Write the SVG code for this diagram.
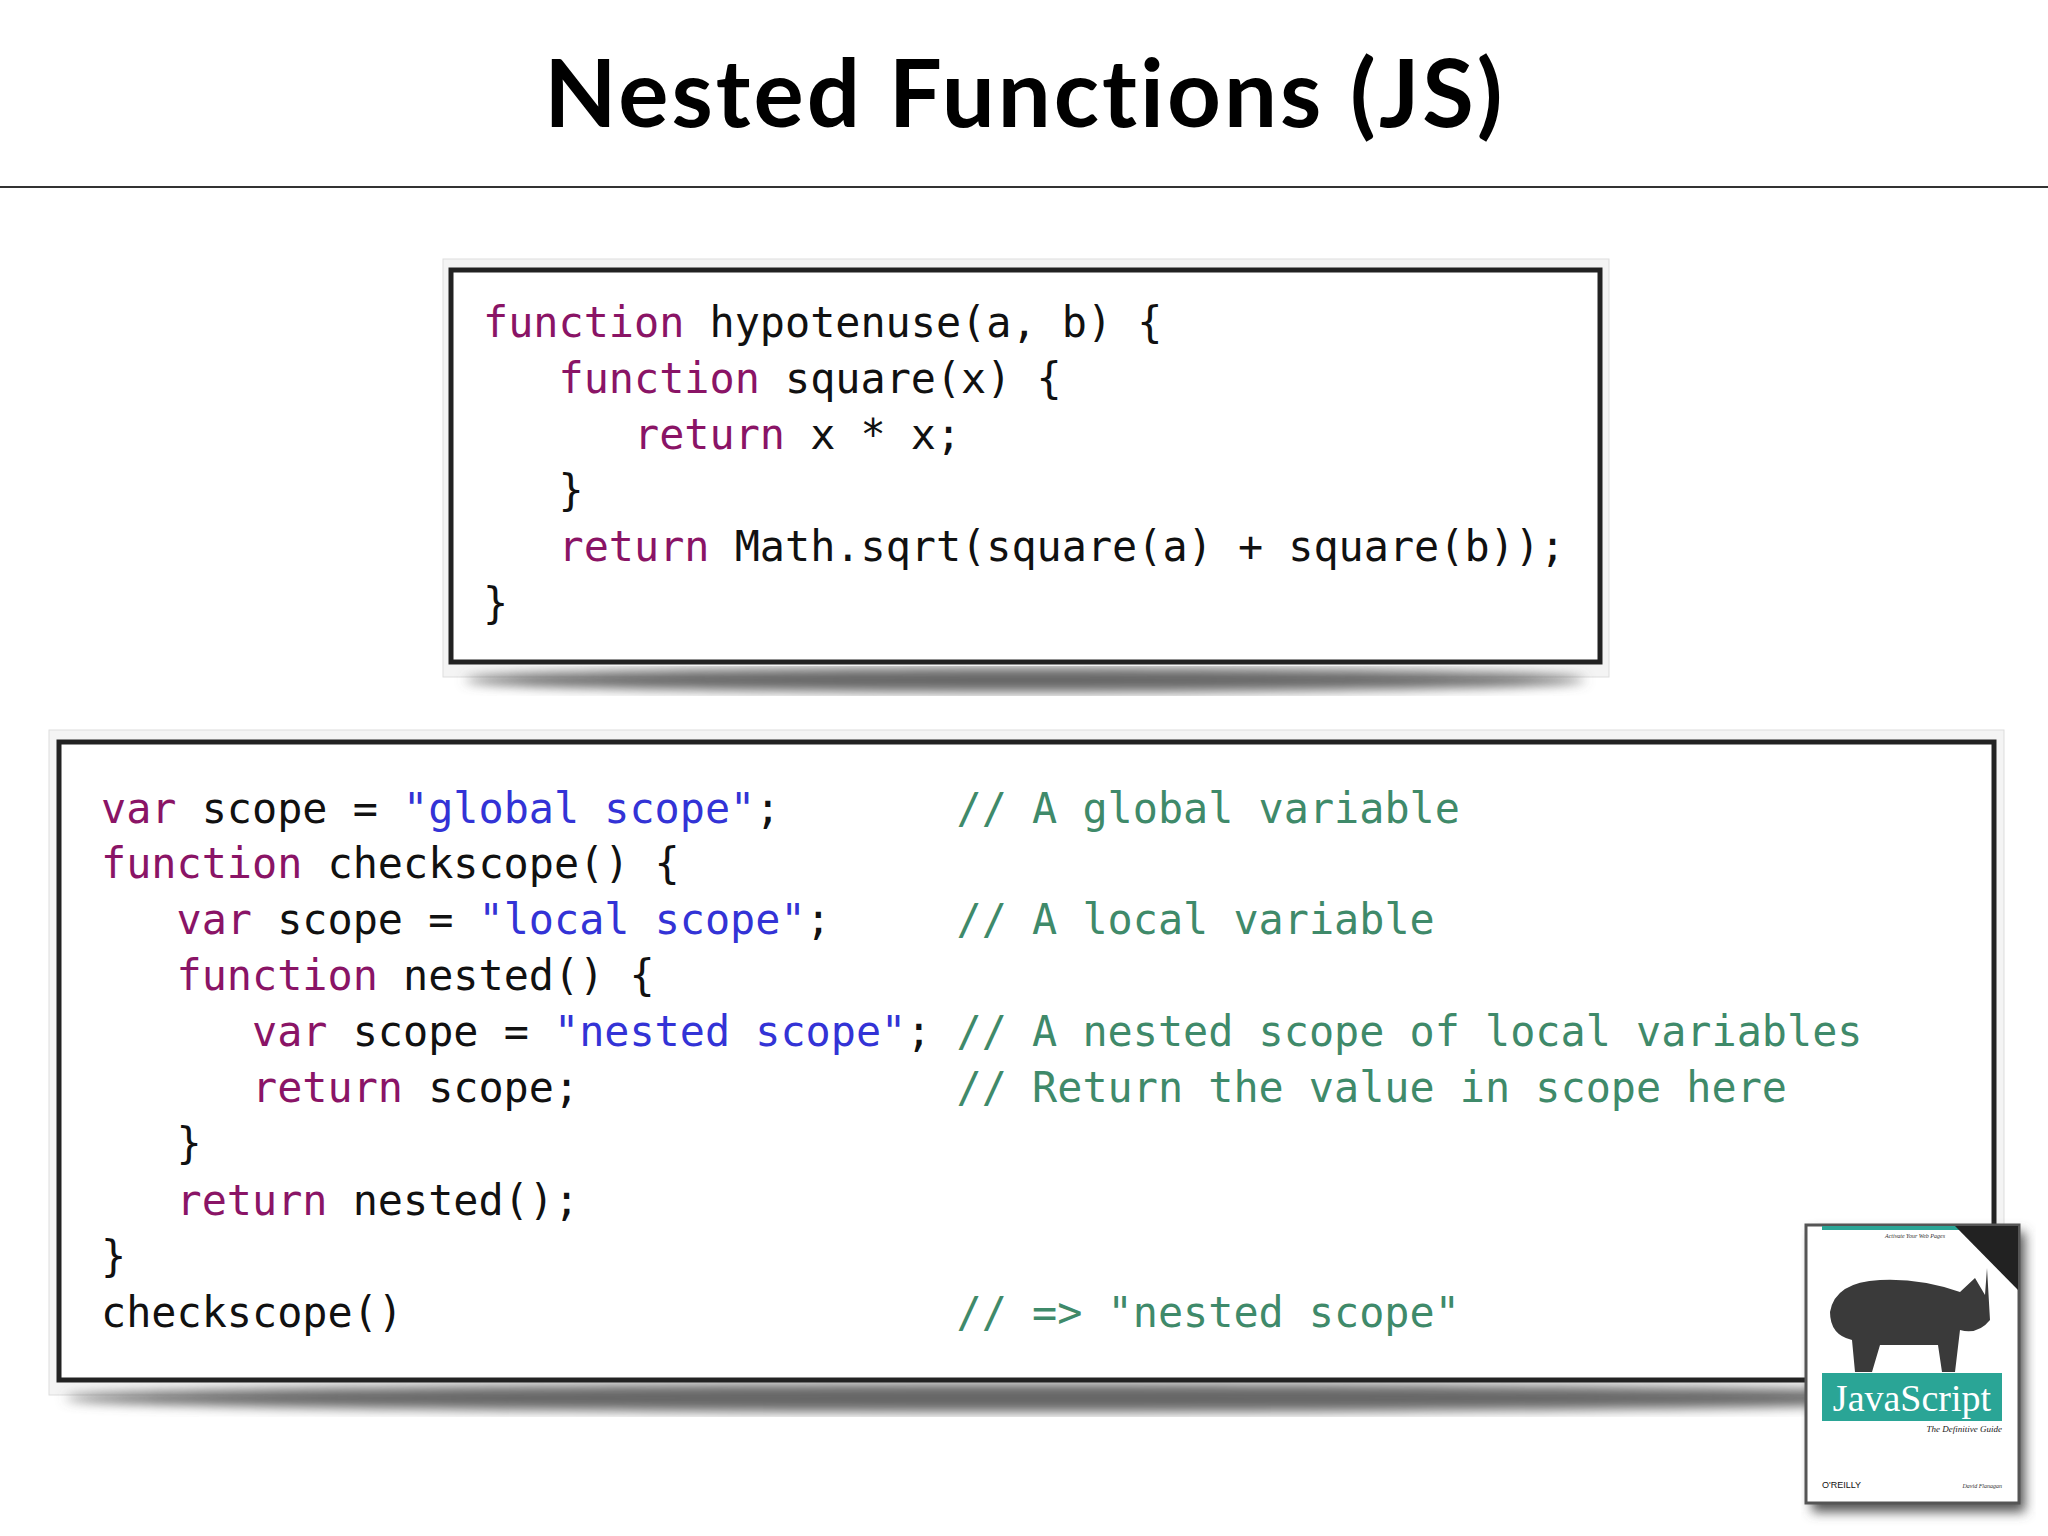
<svg xmlns="http://www.w3.org/2000/svg" width="2048" height="1536" viewBox="0 0 2048 1536">
<defs>
<style>
.c{font-family:"DejaVu Sans Mono","Liberation Mono",monospace;font-size:41.8px;fill:#111;white-space:pre}
.k{fill:#8a1466}.s{fill:#3333d6}.m{fill:#3f8a6a}
.box{fill:#fff;stroke:#222;stroke-width:5}
</style>
<filter id="sh" x="-5%" y="-5%" width="110%" height="120%"><feGaussianBlur stdDeviation="6"/></filter>
</defs>
<rect width="2048" height="1536" fill="#fff"/>
<text x="1025" y="127" text-anchor="middle" font-family="Lato, 'Open Sans', sans-serif" font-weight="bold" font-size="94" letter-spacing="3" fill="#000">Nested Functions (JS)</text>
<line x1="0" y1="187" x2="2048" y2="187" stroke="#333" stroke-width="2"/>
<g id="box1">
<rect x="443" y="259" width="1166" height="418" fill="#f4f4f4" stroke="#ddd"/>
<ellipse cx="1025" cy="680" rx="560" ry="12" fill="#666" filter="url(#sh)"/>
<rect class="box" x="451" y="270" width="1149" height="392"/>
<text class="c" x="483" y="337"><tspan class="k">function</tspan> hypotenuse(a, b) {</text>
<text class="c" x="483" y="393">   <tspan class="k">function</tspan> square(x) {</text>
<text class="c" x="483" y="449">      <tspan class="k">return</tspan> x * x;</text>
<text class="c" x="483" y="505">   }</text>
<text class="c" x="483" y="561">   <tspan class="k">return</tspan> Math.sqrt(square(a) + square(b));</text>
<text class="c" x="483" y="618">}</text>
</g>
<g id="box2">
<rect x="49" y="730" width="1955" height="665" fill="#f4f4f4" stroke="#ddd"/>
<ellipse cx="1025" cy="1398" rx="960" ry="14" fill="#666" filter="url(#sh)"/>
<rect class="box" x="59" y="742" width="1935" height="638"/>
<text class="c" x="101" y="823"><tspan class="k">var</tspan> scope = <tspan class="s">"global scope"</tspan>;       <tspan class="m">// A global variable</tspan></text>
<text class="c" x="101" y="878"><tspan class="k">function</tspan> checkscope() {</text>
<text class="c" x="101" y="934">   <tspan class="k">var</tspan> scope = <tspan class="s">"local scope"</tspan>;     <tspan class="m">// A local variable</tspan></text>
<text class="c" x="101" y="990">   <tspan class="k">function</tspan> nested() {</text>
<text class="c" x="101" y="1046">      <tspan class="k">var</tspan> scope = <tspan class="s">"nested scope"</tspan>; <tspan class="m">// A nested scope of local variables</tspan></text>
<text class="c" x="101" y="1102">      <tspan class="k">return</tspan> scope;               <tspan class="m">// Return the value in scope here</tspan></text>
<text class="c" x="101" y="1158">   }</text>
<text class="c" x="101" y="1215">   <tspan class="k">return</tspan> nested();</text>
<text class="c" x="101" y="1271">}</text>
<text class="c" x="101" y="1327">checkscope()                      <tspan class="m">// =&gt; "nested scope"</tspan></text>
</g>
<g id="book">
<rect x="1812" y="1232" width="213" height="280" fill="#555" filter="url(#sh)"/>
<rect x="1806" y="1225" width="213" height="278" fill="#fff" stroke="#555" stroke-width="3"/>
<rect x="1822" y="1226" width="180" height="4" fill="#2aa596"/>
<polygon points="1955,1226 2018,1226 2018,1290" fill="#222"/>
<text x="1915" y="1238" text-anchor="middle" font-family="'Liberation Serif',serif" font-style="italic" font-size="6" fill="#333">Activate Your Web Pages</text>
<path d="M1830,1312 Q1835,1282 1880,1280 Q1920,1278 1960,1292 L1975,1278 L1985,1295 L1987,1268 L1990,1320 Q1978,1335 1960,1330 L1955,1372 L1942,1372 L1938,1345 L1880,1345 L1872,1372 L1855,1372 L1852,1340 Q1830,1335 1830,1312 Z" fill="#3a3a3a"/>
<rect x="1822" y="1373" width="180" height="48" fill="#2aa596"/>
<text x="1912" y="1411" text-anchor="middle" font-family="'Liberation Serif',serif" font-size="38" fill="#fff">JavaScript</text>
<text x="2002" y="1432" text-anchor="end" font-family="'Liberation Serif',serif" font-style="italic" font-size="9" fill="#222">The Definitive Guide</text>
<text x="1822" y="1488" font-family="'Liberation Sans',sans-serif" font-size="9" fill="#111">O'REILLY</text>
<text x="2002" y="1488" text-anchor="end" font-family="'Liberation Serif',serif" font-style="italic" font-size="6" fill="#333">David Flanagan</text>
</g>
</svg>
